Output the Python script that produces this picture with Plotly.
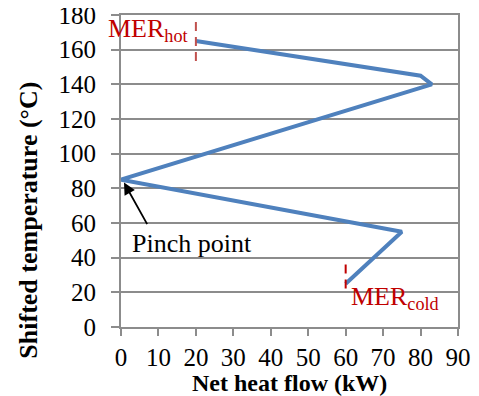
import plotly.graph_objects as go

heat_flow = [20, 80, 83, 0, 75, 60]
shifted_temp = [165, 145, 140, 85, 55, 25]

mer_hot_x = [20, 20]
mer_hot_y = [176, 150]
mer_cold_x = [60, 60]
mer_cold_y = [36, 20]

x_ticks = list(range(0, 91, 10))
y_ticks = list(range(0, 181, 20))

FONT = "Liberation Serif, Times New Roman, serif"
GRAY = "#8c8c8c"
RED = "#C00000"

fig = go.Figure()
fig.add_trace(go.Scatter(x=heat_flow, y=shifted_temp, mode="lines",
                         line=dict(color="#4F81BD", width=4), showlegend=False))
fig.add_trace(go.Scatter(x=mer_hot_x, y=mer_hot_y, mode="lines",
                         line=dict(color="#C0504D", width=2, dash="9px,6px"), showlegend=False))
fig.add_trace(go.Scatter(x=mer_cold_x, y=mer_cold_y, mode="lines",
                         line=dict(color="#C00000", width=2, dash="9px,6px"), showlegend=False))

# page body has an 8px default margin, so the figure is shrunk by 8px
fig.update_layout(
    width=471, height=388,
    margin=dict(l=113, r=21, t=7, b=69),
    paper_bgcolor="white", plot_bgcolor="white",
    font=dict(family=FONT, size=25, color="black"),
    xaxis=dict(range=[0, 90], tickvals=x_ticks, showgrid=False, zeroline=False,
               showline=True, linecolor=GRAY, linewidth=2, mirror=True,
               ticks="outside", ticklen=7, tickcolor=GRAY, tickwidth=2,
               ticklabelstandoff=0, tickfont=dict(size=25), automargin=False,
               ticklabeloverflow="allow"),
    yaxis=dict(range=[0, 180], tickvals=y_ticks, showgrid=True, gridcolor=GRAY, gridwidth=1.5,
               zeroline=False, showline=True, linecolor=GRAY, linewidth=2, mirror=True,
               ticks="outside", ticklen=8, tickcolor=GRAY, tickwidth=2,
               ticklabelstandoff=10, tickfont=dict(size=25), automargin=False,
               ticklabeloverflow="allow"),
)

fig.add_annotation(text="<b>Net heat flow (kW)</b>", xref="paper", yref="paper",
                   x=0.5, y=-0.179, xanchor="center", yanchor="middle",
                   showarrow=False, font=dict(size=24, family=FONT))
fig.add_annotation(text="<b>Shifted temperature (°C)</b>", xref="paper", yref="paper",
                   x=-0.274, y=0.343, xanchor="center", yanchor="middle", textangle=-90,
                   showarrow=False, font=dict(size=26, family=FONT))

fig.add_annotation(text="MER<sub>hot</sub>", x=-0.044, y=0.952, xref="paper", yref="paper",
                   xanchor="left", yanchor="middle", showarrow=False,
                   font=dict(size=26, color=RED, family=FONT))
fig.add_annotation(text="MER<sub>cold</sub>", x=61, y=16.7, xref="x", yref="y",
                   xanchor="left", yanchor="middle", showarrow=False,
                   font=dict(size=26, color=RED, family=FONT))

fig.add_annotation(text="Pinch point", x=2.4, y=47.9, xref="x", yref="y",
                   xanchor="left", yanchor="middle", showarrow=False,
                   font=dict(size=26, family=FONT))
fig.add_annotation(text="", x=0.8, y=83.3, xref="x", yref="y", ax=24, ay=43,
                   showarrow=True, arrowhead=2, arrowsize=1.3, arrowwidth=1.8, arrowcolor="black")

fig.write_html("out.html")
